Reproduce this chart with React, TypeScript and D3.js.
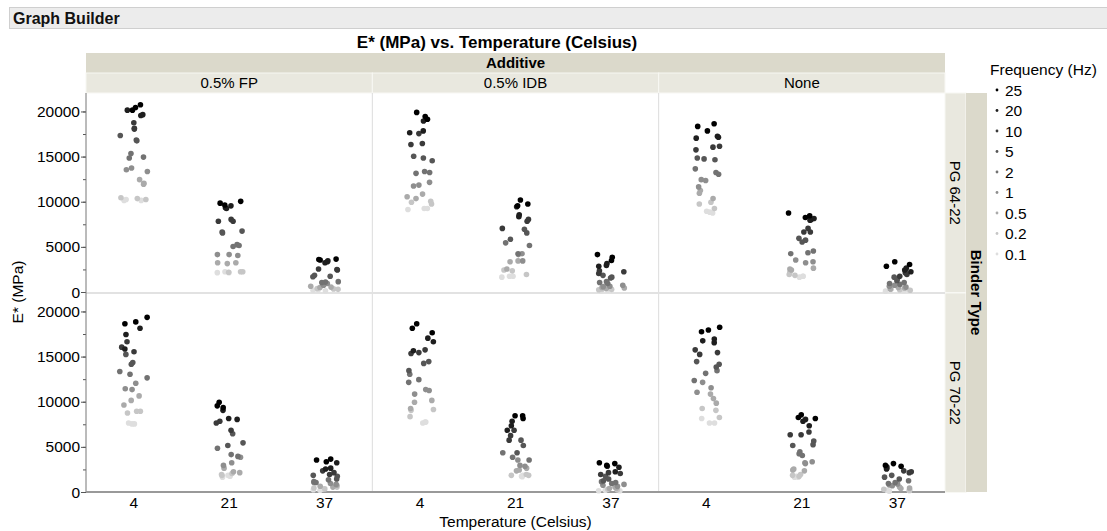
import React from "react";
import * as d3 from "d3";

const ADDITIVES = ["0.5% FP", "0.5% IDB", "None"];
const BINDERS = ["PG 64-22", "PG 70-22"];
const TEMPS = ["4", "21", "37"];
const FREQS = ["25", "20", "10", "5", "2", "1", "0.5", "0.2", "0.1"];
const Y_TICKS = [0, 5000, 10000, 15000, 20000];

// Each array: 9 frequencies (25 → 0.1 Hz) × 3 replicates, E* in MPa
const FP_6422_T4 = [20800, 20500, 20200, 20200, 19700, 19600, 18800, 18200, 18100, 17400, 16900, 16800, 15400, 15000, 14900, 13800, 13600, 13400, 12500, 12100, 12000, 10500, 10400, 10300, 10300, 10200, 10200];
const FP_6422_T21 = [10100, 9900, 9700, 9600, 9400, 9300, 8100, 7900, 7900, 6800, 6700, 6600, 5300, 5200, 5100, 4200, 4200, 4100, 3300, 3300, 3200, 2300, 2300, 2250, 2300, 2200, 2200];
const FP_6422_T37 = [3700, 3650, 3600, 3500, 3400, 3300, 2600, 2550, 2500, 1900, 1800, 1750, 1200, 1150, 1100, 1000, 900, 800, 700, 600, 550, 450, 400, 350, 300, 250, 200];
const IDB_6422_T4 = [19950, 19500, 19200, 19000, 17900, 17700, 17600, 16500, 16400, 15100, 14600, 14900, 13400, 13300, 13200, 12200, 11900, 11800, 10900, 10600, 10400, 10100, 10000, 9800, 9300, 9300, 9200];
const IDB_6422_T21 = [10250, 9800, 9600, 9500, 8600, 8400, 8100, 7900, 7100, 7000, 6600, 5900, 5500, 5200, 4300, 4300, 4200, 3500, 3500, 3400, 2600, 2500, 2400, 2000, 1800, 1800, 1700];
const IDB_6422_T37 = [4200, 3900, 3550, 3200, 3000, 2900, 2400, 2300, 2100, 1900, 1700, 1600, 1200, 1100, 1000, 800, 700, 650, 550, 500, 450, 400, 350, 300, 300, 250, 200];
const NONE_6422_T4 = [18700, 18400, 17900, 17300, 17200, 17100, 16200, 16100, 15800, 14900, 14800, 14700, 13700, 13300, 13100, 12500, 12400, 11700, 11300, 11000, 10400, 10000, 9800, 9300, 9000, 8900, 8800];
const NONE_6422_T21 = [8800, 8500, 8300, 8200, 8100, 8000, 7100, 6700, 6700, 6000, 5800, 5600, 4600, 4400, 4300, 3600, 3400, 3300, 2700, 2600, 2500, 2200, 2000, 1900, 1800, 1800, 1700];
const NONE_6422_T37 = [3400, 3100, 2900, 2700, 2500, 2300, 2200, 2000, 1800, 1700, 1500, 1300, 1100, 1000, 900, 800, 700, 600, 550, 500, 400, 350, 300, 250, 250, 200, 150];
const FP_7022_T4 = [19400, 18900, 18700, 18200, 17500, 15900, 16700, 16100, 15600, 15300, 14400, 14200, 13400, 13100, 12700, 12100, 11500, 11400, 10700, 10200, 9700, 9000, 9000, 8800, 7600, 7700, 7600];
const FP_7022_T21 = [10000, 9600, 9400, 9100, 8200, 8100, 7900, 7700, 6900, 6500, 5500, 5200, 4900, 4200, 4000, 3900, 3300, 3000, 2700, 2300, 2200, 2100, 2000, 1900, 1900, 1800, 1700];
const FP_7022_T37 = [3700, 3600, 3400, 3300, 2700, 2600, 2400, 2200, 2000, 1900, 1800, 1500, 1400, 1200, 1100, 1100, 1000, 900, 800, 700, 600, 600, 500, 400, 400, 300, 250];
const IDB_7022_T4 = [18700, 18200, 17700, 17100, 16700, 15700, 15800, 15500, 15400, 14500, 14300, 13500, 13100, 12500, 12200, 11400, 11300, 10900, 10200, 10000, 9300, 9200, 9100, 8400, 7800, 7700, 7800];
const IDB_7022_T21 = [8500, 8500, 8200, 7900, 7400, 6900, 6900, 6300, 5800, 5800, 5200, 4400, 4400, 3900, 3600, 3600, 3000, 2900, 2700, 2500, 2400, 2000, 1900, 1900, 1900, 1800, 1750];
const IDB_7022_T37 = [3300, 3200, 3000, 2900, 2800, 2300, 2200, 2100, 2000, 1800, 1500, 1300, 1200, 1100, 1000, 900, 800, 700, 600, 500, 450, 400, 350, 300, 250, 200, 200];
const NONE_7022_T4 = [18300, 18000, 17800, 17000, 16800, 16600, 15800, 15500, 15300, 14500, 14200, 13900, 13500, 13200, 12400, 12200, 11600, 11100, 10900, 10400, 9900, 9300, 9100, 8300, 7700, 8200, 7700];
const NONE_7022_T21 = [8600, 8300, 8200, 8100, 7900, 7400, 6700, 6400, 6400, 5700, 5300, 5200, 4500, 4300, 4100, 3400, 3300, 3200, 2600, 2500, 2400, 2000, 1900, 1800, 1800, 1700, 1700];
const NONE_7022_T37 = [3200, 3000, 2900, 2850, 2700, 2600, 2400, 2300, 2200, 1900, 1700, 1500, 1300, 1100, 1000, 950, 850, 750, 600, 500, 450, 350, 300, 250, 250, 200, 150];

const DATA_BY_PANEL: Record<string, number[][]> = {
  "0.5% FP|PG 64-22": [FP_6422_T4, FP_6422_T21, FP_6422_T37],
  "0.5% IDB|PG 64-22": [IDB_6422_T4, IDB_6422_T21, IDB_6422_T37],
  "None|PG 64-22": [NONE_6422_T4, NONE_6422_T21, NONE_6422_T37],
  "0.5% FP|PG 70-22": [FP_7022_T4, FP_7022_T21, FP_7022_T37],
  "0.5% IDB|PG 70-22": [IDB_7022_T4, IDB_7022_T21, IDB_7022_T37],
  "None|PG 70-22": [NONE_7022_T4, NONE_7022_T21, NONE_7022_T37],
};

const GRAYS = ["#000000", "#1e1e1e", "#3a3a3a", "#565656", "#727272", "#8e8e8e", "#aaaaaa", "#c6c6c6", "#dedede"];
const FONT = "'Liberation Sans', Arial, sans-serif";

// deterministic horizontal jitter (display only)
const jitterOf = (k: number) => {
  const s = Math.sin(k * 12.9898 + 78.233) * 43758.5453;
  return s - Math.floor(s) - 0.5;
};

export default function App() {
  const W = 1107, H = 531;
  const plotL = 86, plotR = 945;
  const rowTops = [93, 293];
  const rowH = 199.5;
  const xOuter = d3.scaleBand<string>().domain(ADDITIVES).range([plotL, plotR]);
  const xInner = d3.scaleBand<string>().domain(TEMPS).range([0, xOuter.bandwidth()]);
  const color = d3.scaleOrdinal<string, string>().domain(FREQS).range(GRAYS);
  const yScales = rowTops.map((t) => d3.scaleLinear().domain([0, 22100]).range([t + rowH, t]));
  const minorTicks = d3.range(0, 22001, 2500);

  type Pt = { x: number; y: number; c: string; fi: number; key: string };
  const points: Pt[] = [];
  let seed = 0;
  BINDERS.forEach((b, bi) => {
    ADDITIVES.forEach((a) => {
      const arrs = DATA_BY_PANEL[`${a}|${b}`];
      TEMPS.forEach((t, ti) => {
        const cx = (xOuter(a) as number) + (xInner(t) as number) + xInner.bandwidth() / 2;
        arrs[ti].forEach((v, i) => {
          seed++;
          const fi = Math.floor(i / 3);
          const jit = jitterOf(seed) * 28;
          points.push({ x: cx + jit, y: yScales[bi](v), c: color(FREQS[fi]), fi, key: `${a}-${b}-${t}-${i}` });
        });
      });
    });
  });
  points.sort((p, q) => q.fi - p.fi);

  return (
    <svg width={W} height={H} style={{ position: "absolute", left: 0, top: 0, background: "#fff" }} fontFamily={FONT}>
      {/* Graph Builder header */}
      <rect x={9.5} y={7.5} width={1100} height={21} fill="#ececec" stroke="#cfcfcf" />
      <text x={13} y={24} fontSize={16} fontWeight="bold" fill="#111">Graph Builder</text>

      {/* title */}
      <text x={497} y={48} fontSize={17} fontWeight="bold" textAnchor="middle" fill="#000">E* (MPa) vs. Temperature (Celsius)</text>

      {/* Additive headers */}
      <rect x={plotL} y={53} width={plotR - plotL} height={20} fill="#dbd9cb" />
      <text x={(plotL + plotR) / 2} y={68} fontSize={15} fontWeight="bold" textAnchor="middle">Additive</text>
      {ADDITIVES.map((a) => (
        <g key={a}>
          <rect x={xOuter(a)} y={73} width={xOuter.bandwidth()} height={20} fill="#e9e8df" stroke="#f8f8f4" strokeWidth={1} />
          <text x={(xOuter(a) as number) + xOuter.bandwidth() / 2} y={88} fontSize={15} textAnchor="middle">{a}</text>
        </g>
      ))}

      {/* right strips */}
      {BINDERS.map((b, bi) => (
        <g key={b}>
          <rect x={plotR} y={rowTops[bi]} width={21} height={rowH} fill="#e9e8df" stroke="#f8f8f4" />
          <text transform={`translate(${plotR + 5},${rowTops[bi] + rowH / 2}) rotate(90)`} fontSize={15} textAnchor="middle">{b}</text>
        </g>
      ))}
      <rect x={plotR + 21} y={rowTops[0]} width={21} height={rowH * 2} fill="#dbd9cb" />
      <text transform={`translate(${plotR + 26},${rowTops[0] + rowH}) rotate(90)`} fontSize={15} fontWeight="bold" textAnchor="middle">Binder Type</text>

      {/* panel separators */}
      {ADDITIVES.slice(1).map((a) => (
        <line key={a} x1={xOuter(a)} x2={xOuter(a)} y1={93} y2={492} stroke="#dcdcdc" />
      ))}
      <line x1={plotL} x2={plotR} y1={rowTops[1]} y2={rowTops[1]} stroke="#e2e2e2" strokeWidth={2} />

      {/* y axes */}
      {yScales.map((ys, bi) => (
        <g key={bi}>
          {minorTicks.map((t) => (
            <line key={t} x1={plotL - 3} x2={plotL} y1={ys(t)} y2={ys(t)} stroke="#555" />
          ))}
          {Y_TICKS.map((t) => (
            <g key={t}>
              <line x1={plotL - 5} x2={plotL} y1={ys(t)} y2={ys(t)} stroke="#555" />
              <text x={plotL - 6} y={ys(t) + 5} fontSize={15.5} textAnchor="end">{t}</text>
            </g>
          ))}
        </g>
      ))}
      <line x1={plotL} x2={plotL} y1={93} y2={492} stroke="#777" />
      <line x1={plotL} x2={plotR} y1={492} y2={492} stroke="#999" strokeWidth={2} />

      {/* x ticks */}
      {ADDITIVES.map((a) =>
        TEMPS.map((t) => (
          <text key={a + t} x={(xOuter(a) as number) + (xInner(t) as number) + xInner.bandwidth() / 2} y={508} fontSize={15.5} textAnchor="middle">{t}</text>
        ))
      )}

      {/* axis titles */}
      <text x={(plotL + plotR) / 2} y={527} fontSize={15.5} textAnchor="middle">Temperature (Celsius)</text>
      <text transform={`translate(23,292) rotate(-90)`} fontSize={15.5} textAnchor="middle">E* (MPa)</text>

      {/* points */}
      {points.map((p) => (
        <circle key={p.key} cx={p.x} cy={p.y} r={2.8} fill={p.c} />
      ))}

      {/* legend */}
      <text x={990} y={75} fontSize={15.5}>Frequency (Hz)</text>
      {FREQS.map((f, i) => (
        <g key={f} transform={`translate(0,${90 + i * 20.5})`}>
          <circle cx={997} cy={0} r={1.4} fill={color(f)} />
          <text x={1005} y={5.5} fontSize={15.5}>{f}</text>
        </g>
      ))}
    </svg>
  );
}
